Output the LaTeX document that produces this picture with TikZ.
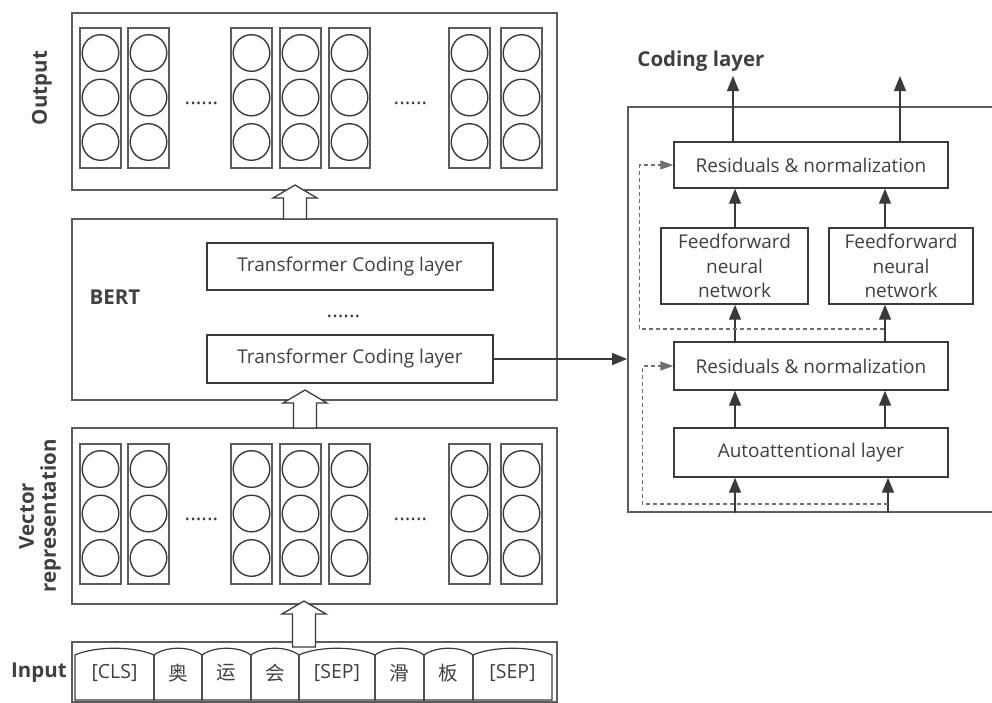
\documentclass[tikz,border=0pt]{standalone}
\usepackage{fontspec}
\setmainfont{Open Sans}
\newfontfamily\cjk{Noto Sans CJK SC}
\usetikzlibrary{arrows.meta}

\definecolor{inkdark}{HTML}{3A3A3A}
\definecolor{inkgray}{HTML}{5C5C5C}
\definecolor{dashgray}{HTML}{707070}
\definecolor{textgray}{HTML}{404040}

% sizes of one vector column
\newcommand{\colw}{41}
\newcommand{\colh}{140}
\newcommand{\unitr}{18.3pt}
\newcommand{\unitx}{20.5}

% column of three units, from its top left corner
\newcommand{\veccol}[2]{%
  \draw[colbox] (#1,#2) rectangle (#1+\colw,#2+\colh);
  \draw[unit] (#1+\unitx,#2+25) circle[radius=\unitr];
  \draw[unit] (#1+\unitx,#2+69.5) circle[radius=\unitr];
  \draw[unit] (#1+\unitx,#2+114) circle[radius=\unitr];}

% hollow block arrow: centre x, tip y, tail y
\newcommand{\fatarrow}[3]{%
  \draw[hollow] (#1,#2) -- (#1+22,#2+13) -- (#1+11.5,#2+13)
    -- (#1+11.5,#3) -- (#1-11.5,#3) -- (#1-11.5,#2+13)
    -- (#1-22,#2+13) -- cycle;}

% one input token: name, left x, right x, text
\newcommand{\incell}[4]{%
  \draw[cellline] (#2,700) -- (#2,655)
    .. controls ({#2+0.25*(#3-#2)},646) and ({#3-0.25*(#3-#2)},646) .. (#3,655)
    -- (#3,700) -- cycle;
  \node[celltxt] (#1) at ({(#2+#3)/2},673) {#4};}

\begin{document}
\begin{tikzpicture}[x=1pt,y=-1pt,
    outerbox/.style={draw=inkgray, line width=1.8pt, inner sep=0pt},
    colbox/.style={draw=inkgray, line width=1.8pt},
    unit/.style={draw=inkdark, line width=1.4pt},
    hollow/.style={draw=inkdark, fill=white, line width=1.3pt, line join=miter},
    cellline/.style={draw=inkdark, line width=1.2pt},
    layerbox/.style={draw=inkdark, line width=1.4pt, inner sep=0pt,
      text=textgray, font=\fontsize{19}{24.5}\selectfont},
    celltxt/.style={text=textgray, font=\fontsize{19.5}{22}\selectfont},
    lbl/.style={text=textgray, font=\bfseries\fontsize{20.5}{22}\selectfont},
    dots/.style={anchor=base, text=inkdark, font=\fontsize{21}{22}\selectfont},
    flow/.style={draw=inkdark, line width=1.4pt, -{Triangle[length=15pt,width=12pt]}},
    resline/.style={draw=dashgray, line width=1.1pt, dash pattern=on 4pt off 3pt,
      -{Triangle[length=13pt,width=9pt]}}]
  \clip (0,0) rectangle (992,702);

  % left stack
  \node[outerbox, minimum width=485pt, minimum height=177pt] (outbox) at (314.5,101.5) {};
  \node[outerbox, minimum width=485pt, minimum height=181pt] (bertbox) at (314.5,309.5) {};
  \node[outerbox, minimum width=485pt, minimum height=176pt] (vecbox) at (314.5,516) {};
  \node[outerbox, minimum width=485pt, minimum height=60pt] (inbox) at (314.5,672) {};

  \node[lbl, rotate=90] (outlbl) at (42,88) {Output};
  \node[lbl, rotate=90, align=center] (veclbl) at (40,516) {Vector\\representation};
  \node[lbl] (bertlbl) at (115,297) {BERT};
  \node[lbl] (inlbl) at (39,673) {Input};

  \veccol{80}{28}
  \veccol{128}{28}
  \veccol{231}{28}
  \veccol{280}{28}
  \veccol{329}{28}
  \veccol{449}{28}
  \veccol{501}{28}
  \node[dots] (odots1) at (201.5,104.5) {......};
  \node[dots] (odots2) at (410.5,104.5) {......};

  \veccol{80}{444}
  \veccol{128}{444}
  \veccol{231}{444}
  \veccol{280}{444}
  \veccol{329}{444}
  \veccol{449}{444}
  \veccol{501}{444}
  \node[dots] (vdots1) at (201.5,520.5) {......};
  \node[dots] (vdots2) at (410.5,520.5) {......};

  \node[layerbox, minimum width=286pt, minimum height=47pt] (tcl1) at (350,266.5)
    {Transformer Coding layer};
  \node[dots] (bdots) at (343.5,317.5) {......};
  \node[layerbox, minimum width=286pt, minimum height=48pt] (tcl2) at (350,359)
    {Transformer Coding layer};

  \incell{tk1}{75}{154}{[CLS]}
  \incell{tk2}{154}{202}{\cjk 奥}
  \incell{tk3}{202}{251}{\cjk 运}
  \incell{tk4}{251}{299}{\cjk 会}
  \incell{tk5}{299}{375}{[SEP]}
  \incell{tk6}{375}{424}{\cjk 滑}
  \incell{tk7}{424}{473}{\cjk 板}
  \incell{tk8}{473}{552}{[SEP]}

  \fatarrow{295}{185}{219}
  \fatarrow{305}{390}{428}
  \fatarrow{304}{601}{647}

  % encoder layer in detail
  \node[outerbox, minimum width=382pt, minimum height=405pt] (enc) at (819,309.5) {};
  \node[lbl] (codlbl) at (701,61) {Coding layer};

  \node[layerbox, minimum width=274pt, minimum height=46pt] (res1) at (811,165)
    {Residuals \& normalization};
  \node[layerbox, minimum width=147pt, minimum height=76pt, align=center] (ff1)
    at (734.5,266) {Feedforward\\neural\\network};
  \node[layerbox, minimum width=144pt, minimum height=76pt, align=center] (ff2)
    at (901,266) {Feedforward\\neural\\network};
  \node[layerbox, minimum width=274pt, minimum height=48pt] (res2) at (811,366)
    {Residuals \& normalization};
  \node[layerbox, minimum width=274pt, minimum height=49pt] (att) at (811,452.5)
    {Autoattentional layer};

  \coordinate (lx) at (735,0);
  \coordinate (rx) at (885,0);
  \coordinate (o1) at (733,76);
  \coordinate (o2) at (900,76);
  \coordinate (i1) at (735,0);
  \coordinate (i2) at (888,0);
  \coordinate (sk1) at (888,504);
  \coordinate (sk2) at (884,329);

  \draw[flow] (tcl2.east) -- (tcl2.east -| enc.west);

  \draw[flow] (enc.south -| i1) -- (att.south -| i1);
  \draw[flow] (enc.south -| i2) -- (att.south -| i2);
  \draw[flow] (att.north -| lx) -- (res2.south -| lx);
  \draw[flow] (att.north -| rx) -- (res2.south -| rx);
  \draw[flow] (res2.north -| lx) -- (ff1.south -| lx);
  \draw[flow] (res2.north -| rx) -- (ff2.south -| rx);
  \draw[flow] (ff1.north -| lx) -- (res1.south -| lx);
  \draw[flow] (ff2.north -| rx) -- (res1.south -| rx);
  \draw[flow] (res1.north -| o1) -- (o1);
  \draw[flow] (res1.north -| o2) -- (o2);

  \draw[resline] (sk1) -| ([xshift=-31pt]res2.west) -- (res2.west);
  \draw[resline] (sk2) -| ([xshift=-34pt]res1.west) -- (res1.west);
\end{tikzpicture}
\end{document}
